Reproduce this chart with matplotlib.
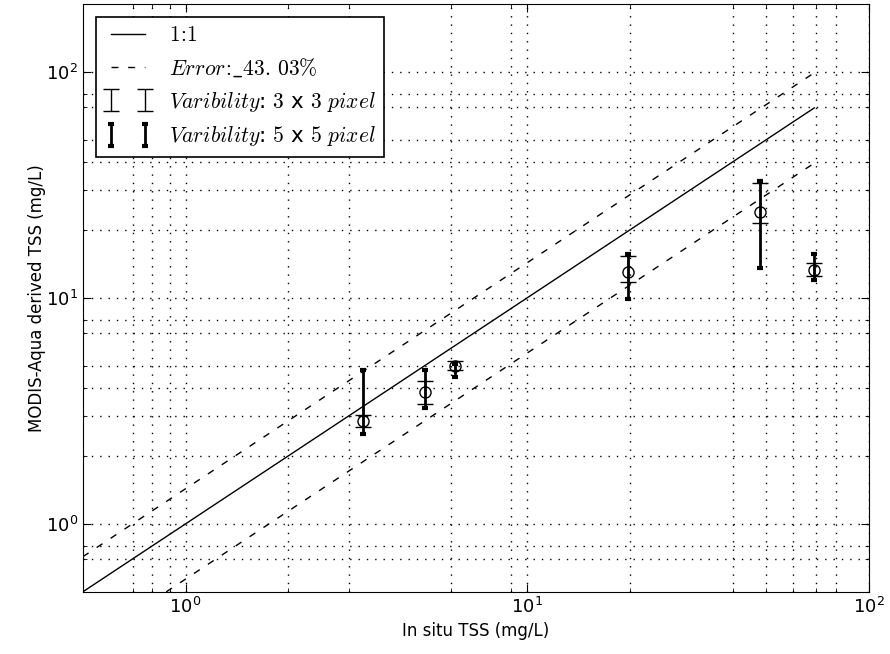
import numpy as np
import matplotlib
matplotlib.use('Agg')
import matplotlib.pyplot as plt
from matplotlib.ticker import FixedLocator, NullFormatter

plt.rcParams['mathtext.fontset'] = 'cm'
plt.rcParams['font.family'] = 'DejaVu Sans'

# in situ vs satellite TSS (mg/L)
insitu = [3.30, 5.02, 6.15, 19.7, 48.2, 69.3]
modis = [2.85, 3.84, 4.98, 12.96, 24.0, 13.3]
# 3x3 pixel range
low33 = [2.68, 3.40, 4.82, 11.71, 21.5, 12.5]
high33 = [3.02, 4.28, 5.24, 15.25, 32.3, 14.2]
# 5x5 pixel range
low55 = [2.51, 3.27, 4.46, 9.89, 13.6, 12.0]
high55 = [4.82, 4.79, 5.12, 15.62, 32.9, 15.6]
err_pct = 43.03

x = np.array(insitu)
y = np.array(modis)
e33 = [y - np.array(low33), np.array(high33) - y]
e55 = [y - np.array(low55), np.array(high55) - y]

fig = plt.figure(figsize=(8.9, 6.54), dpi=100)
ax = fig.add_axes([0.093, 0.095, 0.883, 0.899])

xl = np.array([0.5, x.max()])
ax.plot(xl, xl, 'k-', lw=1, label=r'$1\!:\!1$')
ax.plot(xl, xl * (1 + err_pct / 100), 'k--', lw=1, dashes=(5, 7),
        label=r'$Error\!:\!\_43.\,03\%$')
ax.plot(xl, xl * (1 - err_pct / 100), 'k--', lw=1, dashes=(5, 7))

ax.errorbar(x, y, yerr=e33, fmt='none', ecolor='k', elinewidth=1,
            capsize=5.5, capthick=1, label=r'$Varibility$: $3$ x $3$ $pixel$')
ax.errorbar(x, y, yerr=e55, fmt='none', ecolor='k', elinewidth=2,
            capsize=2.5, capthick=3, label=r'$Varibility$: $5$ x $5$ $pixel$')
ax.plot(x, y, 'o', mfc='none', mec='k', ms=8, mew=1)

ax.set_xscale('log')
ax.set_yscale('log')
ax.set_xlim(0.5, 100)
ax.set_ylim(0.5, 200)

ax.xaxis.set_minor_locator(FixedLocator([0.7, 0.8, 0.9, 2, 3, 6, 9, 20, 40, 50, 60, 70, 80]))
ax.yaxis.set_minor_locator(FixedLocator([0.7, 0.8, 2, 3, 4, 5, 7, 8, 20, 30, 40, 50, 70, 80]))
ax.xaxis.set_minor_formatter(NullFormatter())
ax.yaxis.set_minor_formatter(NullFormatter())
ax.tick_params(which='both', direction='in', top=True, right=True)
ax.tick_params(which='major', length=6, labelsize=13)
ax.tick_params(which='minor', length=3)
ax.grid(True, which='both', color='k', linestyle=(0, (1, 5)), linewidth=1)

ax.set_xlabel('In situ TSS (mg/L)', fontsize=12)
ax.set_ylabel('MODIS-Aqua derived TSS (mg/L)', fontsize=12, labelpad=0)

leg = ax.legend(loc='upper left', numpoints=2, fontsize=15.5, fancybox=False,
                framealpha=1, edgecolor='k', handlelength=2.2,
                borderaxespad=0.6, labelspacing=0.5)
leg.get_frame().set_linewidth(1.2)

fig.savefig('out.png', dpi=100)
